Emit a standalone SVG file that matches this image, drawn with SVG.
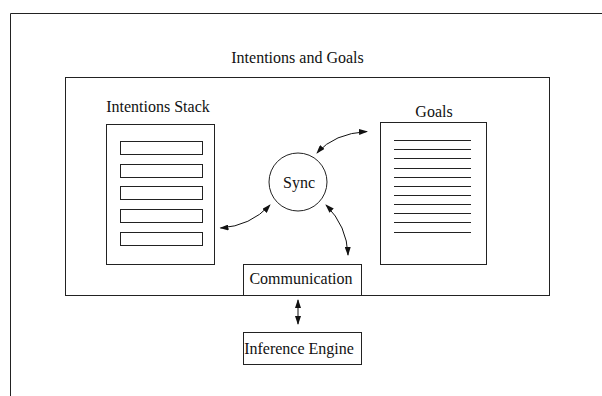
<svg xmlns="http://www.w3.org/2000/svg" width="602" height="396" viewBox="0 0 602 396">
  <style>
    .box { fill: none; stroke: #222; stroke-width: 1; }
    .line { fill: none; stroke: #222; stroke-width: 1; }
    .lbl { font-family: "Liberation Serif", "Times New Roman", serif; font-size: 16px; fill: #111; text-anchor: middle; }
    .link { fill: none; stroke: #111; stroke-width: 1; marker-start: url(#head); marker-end: url(#head); }
  </style>
  <defs>
    <marker id="head" markerUnits="userSpaceOnUse" markerWidth="9" markerHeight="6" refX="8" refY="3" orient="auto-start-reverse">
      <path d="M0,0 L9,3 L0,6 z" fill="#111"/>
    </marker>
  </defs>

  <!-- page frame (top and left edges only) -->
  <g id="frame">
    <path class="line" d="M10.5,396 V13.5 H602"/>
  </g>

  <!-- enclosing module -->
  <g id="intentions-and-goals">
    <rect class="box" x="65.5" y="77.5" width="484" height="218"/>
    <text class="lbl" x="297.5" y="63">Intentions and Goals</text>
  </g>

  <!-- intentions stack -->
  <g id="intentions-stack">
    <text class="lbl" x="158" y="112">Intentions Stack</text>
    <rect class="box" x="106.5" y="124.5" width="108" height="140"/>
    <rect class="box" x="120.5" y="141.5" width="82" height="13"/>
    <rect class="box" x="120.5" y="164.5" width="82" height="13"/>
    <rect class="box" x="120.5" y="186.5" width="82" height="13"/>
    <rect class="box" x="120.5" y="209.5" width="82" height="13"/>
    <rect class="box" x="120.5" y="232.5" width="82" height="13"/>
  </g>

  <!-- goals list -->
  <g id="goals">
    <text class="lbl" x="434" y="117">Goals</text>
    <rect class="box" x="380.5" y="122.5" width="106" height="142"/>
    <g class="line">
      <path d="M394,140.5 H471"/>
      <path d="M394,149.5 H471"/>
      <path d="M394,158.5 H471"/>
      <path d="M394,168.5 H471"/>
      <path d="M394,177.5 H471"/>
      <path d="M394,186.5 H471"/>
      <path d="M394,195.5 H471"/>
      <path d="M394,204.5 H471"/>
      <path d="M394,213.5 H471"/>
      <path d="M394,222.5 H471"/>
      <path d="M394,232.5 H471"/>
    </g>
  </g>

  <!-- sync hub -->
  <g id="sync">
    <circle class="box" cx="298" cy="182" r="29"/>
    <text class="lbl" x="299" y="188">Sync</text>
  </g>

  <!-- communication port -->
  <g id="communication">
    <rect class="box" x="243.5" y="264.5" width="118" height="31" fill="#fff"/>
    <text class="lbl" x="301" y="284">Communication</text>
  </g>

  <!-- inference engine -->
  <g id="inference-engine">
    <rect class="box" x="243.5" y="332.5" width="118" height="32"/>
    <text class="lbl" x="299" y="354">Inference Engine</text>
  </g>

  <!-- connectors -->
  <g id="connectors">
    <path class="link" d="M317,153 Q334,133.5 367,131.5"/>
    <path class="link" d="M270,205 Q250.5,226 220.5,228"/>
    <path class="link" d="M326,205 Q347,226 348,255"/>
    <path class="link" d="M298,300 V324"/>
  </g>
</svg>
